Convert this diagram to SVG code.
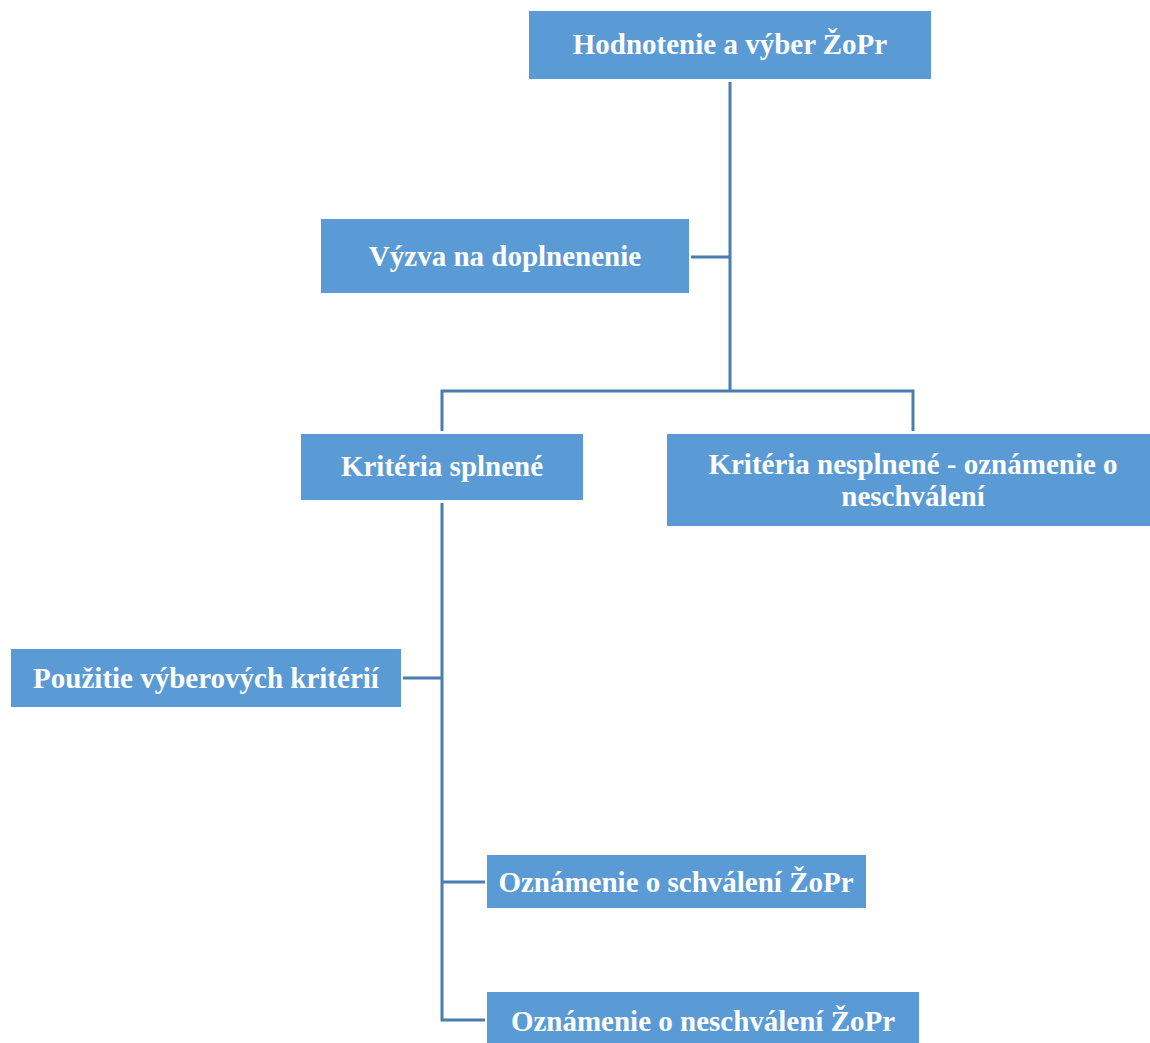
<svg xmlns="http://www.w3.org/2000/svg" width="1150" height="1043" viewBox="0 0 1150 1043">
<style>
.box{fill:#5b9bd5;}
.t{font-family:"Liberation Serif","Times New Roman",serif;font-weight:bold;font-size:29px;fill:#ffffff;text-anchor:middle;}
.c{fill:none;stroke:#4a7db0;stroke-width:3;}
</style>
<rect width="1150" height="1043" fill="#ffffff"/>
<g id="connectors">
<path class="c" d="M730,82 V391"/>
<path class="c" d="M691,257 H730"/>
<path class="c" d="M442,431 V391 H913 V431"/>
<path class="c" d="M442,503 V1020 H485"/>
<path class="c" d="M403,678 H442"/>
<path class="c" d="M442,882 H485"/>
</g>
<g id="n1"><rect class="box" x="529" y="11" width="402" height="68"/><text class="t" x="730" y="54">Hodnotenie a výber ŽoPr</text></g>
<g id="n2"><rect class="box" x="321" y="219" width="368" height="74"/><text class="t" x="505" y="266">Výzva na doplnenenie</text></g>
<g id="n3"><rect class="box" x="301" y="434" width="282" height="66"/><text class="t" x="442" y="476">Kritéria splnené</text></g>
<g id="n4"><rect class="box" x="667" y="434" width="483" height="92"/><text class="t" x="913" y="474">Kritéria nesplnené - oznámenie o</text><text class="t" x="913" y="506">neschválení</text></g>
<g id="n5"><rect class="box" x="11" y="649" width="390" height="58"/><text class="t" x="206" y="688">Použitie výberových kritérií</text></g>
<g id="n6"><rect class="box" x="487" y="855" width="379" height="53"/><text class="t" x="676" y="892">Oznámenie o schválení ŽoPr</text></g>
<g id="n7"><rect class="box" x="487" y="992" width="432" height="51"/><text class="t" x="703" y="1031">Oznámenie o neschválení ŽoPr</text></g>
</svg>
